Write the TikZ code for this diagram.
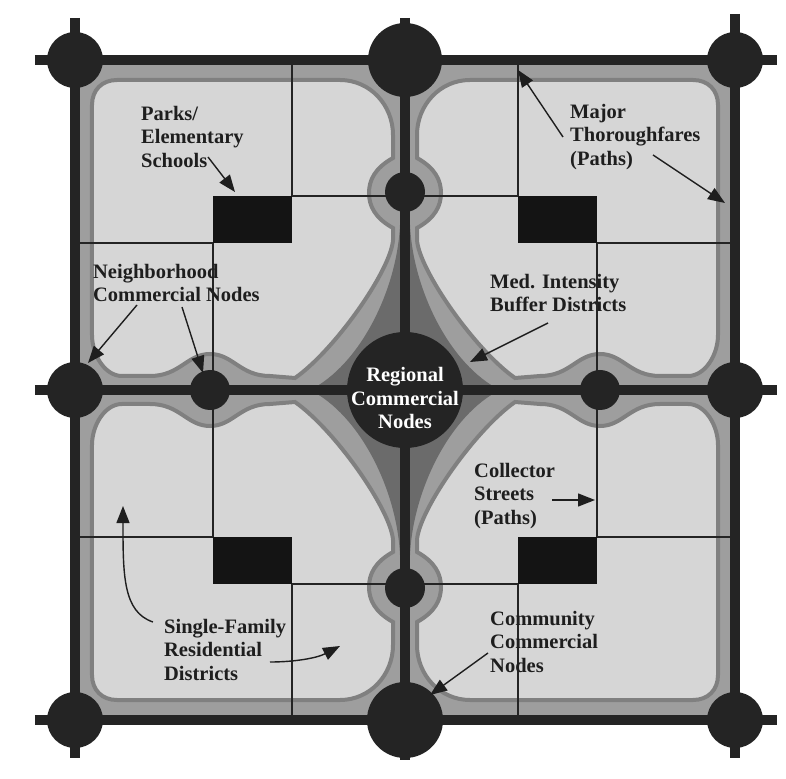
\documentclass[tikz,border=0pt]{standalone}
\usepackage{fontspec}
\setmainfont{Liberation Serif}
\usepackage{tikz}
\usetikzlibrary{arrows.meta, positioning, calc}
\definecolor{roadgray}{HTML}{242424}
\definecolor{textgray}{HTML}{1E1E1E}

\begin{document}
\begin{tikzpicture}[x=1pt, y=1pt,
  major/.style={line width=10pt, roadgray},
  collector/.style={line width=1.3pt, roadgray},
  school/.style={fill=black!92},
  bigdot/.style={circle, fill=roadgray, inner sep=0pt, minimum size=#1},
  lbl/.style={anchor=north west, align=left, inner sep=0pt, text=textgray,
    font=\fontsize{20.5}{23.5}\selectfont\bfseries},
  pointer/.style={-{Triangle[length=17pt,width=13pt]}, line width=1.4pt, textgray},
  bandzone/.style={fill=black!38},
  conezone/.style={fill=black!58},
  lightzone/.style={fill=black!16, draw=black!50, line width=4pt}]
  \useasboundingbox[fill=white] (-405,-388) rectangle (381,390);

  % quadrants, mirrored
  \foreach \sx/\sy in {1/1,-1/1,1/-1,-1/-1}{
    \begin{scope}[xscale=\sx, yscale=\sy]
      \fill[bandzone] (-330,0) rectangle (0,330);
      \fill[conezone] (-5,165) .. controls (-8,100) and (-45,25) .. (-95,0)
        -- (0,0) -- cycle;
      \path[lightzone] (-313,55) -- (-313,285)
        .. controls (-313,300) and (-303,310) .. (-288,310)
        -- (-65,310) .. controls (-35,310) and (-12,285) .. (-12,255)
        -- (-12,232) .. controls (-30,222) and (-36,210) .. (-36,197)
        .. controls (-36,184) and (-30,172) .. (-12,162)
        -- (-12,150) .. controls (-14,120) and (-70,40) .. (-110,12)
        -- (-135,14) .. controls (-165,14) and (-172,36) .. (-195,36)
        .. controls (-218,36) and (-225,14) .. (-255,14)
        -- (-283,14) .. controls (-300,14) and (-313,35) .. (-313,55) -- cycle;
      % collector streets and school
      \draw[collector] (-113,330) -- (-113,194) -- (0,194);
      \draw[collector] (-330,147) -- (-192,147) -- (-192,0);
      \fill[school] (-192,147) rectangle (-113,194);
    \end{scope}
  }

  % major thoroughfares
  \coordinate (tW) at (-370,330);  \coordinate (tE) at (372,330);
  \coordinate (mW) at (-370,0);    \coordinate (mE) at (372,0);
  \coordinate (bW) at (-370,-330); \coordinate (bE) at (372,-330);
  \coordinate (lN) at (-330,372);  \coordinate (lS) at (-330,-368);
  \coordinate (cN) at (0,372);     \coordinate (cS) at (0,-370);
  \coordinate (rN) at (330,376);   \coordinate (rS) at (330,-368);
  \draw[major] (tW) -- (tE);
  \draw[major] (mW) -- (mE);
  \draw[major] (bW) -- (bE);
  \draw[major] (lN) -- (lS);
  \draw[major] (cN) -- (cS);
  \draw[major] (rN) -- (rS);

  % commercial nodes
  \node[bigdot=56pt] (cNW) at (-330,330) {};
  \node[bigdot=56pt] (cNE) at (330,330) {};
  \node[bigdot=56pt] (cSW) at (-330,-330) {};
  \node[bigdot=56pt] (cSE) at (330,-330) {};
  \node[bigdot=56pt] (cW) at (-330,0) {};
  \node[bigdot=56pt] (cE) at (330,0) {};
  \node[bigdot=74pt] (cTop) at (0,330) {};
  \node[bigdot=76pt] (cBot) at (0,-330) {};
  \node[bigdot=40pt] (nN) at (0,198) {};
  \node[bigdot=40pt] (nS) at (0,-198) {};
  \node[bigdot=40pt] (nW) at (-195,0) {};
  \node[bigdot=40pt] (nE) at (195,0) {};
  \node[bigdot=116pt] (reg) at (0,0) {};
  \node[lbl, anchor=center, align=center, text=white] (regtxt) at (0,-8)
    {Regional\\Commercial\\Nodes};

  % labels
  \node[lbl] (parks) at (-264,284) {Parks/\\Elementary\\Schools};
  \node[lbl] (neigh) at (-312,126) {Neighborhood\\Commercial Nodes};
  \node[lbl] (major) at (165,286) {Major\\Thoroughfares\\(Paths)};
  \node[lbl] (buffer) at (85,116) {Med. Intensity\\Buffer Districts};
  \node[lbl] (coll) at (69,-73) {Collector\\Streets\\(Paths)};
  \node[lbl] (comm) at (85,-221) {Community\\Commercial\\Nodes};
  \node[lbl] (single) at (-241,-229) {Single-Family\\Residential\\Districts};

  % pointers
  \coordinate (pA) at (-197,233);  \coordinate (pB) at (-170,198);
  \coordinate (nA1) at (-268,85);  \coordinate (nB1) at (-317,27);
  \coordinate (nA2) at (-223,83);  \coordinate (nB2) at (-202,17);
  \coordinate (mA1) at (158,253);  \coordinate (mB1) at (113,320);
  \coordinate (mA2) at (248,235);  \coordinate (mB2) at (320,187);
  \coordinate (bA) at (143,67);    \coordinate (bB) at (65,28);
  \coordinate (kA) at (147,-110);  \coordinate (kB) at (190,-110);
  \coordinate (qA) at (83,-263);   \coordinate (qB) at (25,-305);
  \coordinate (sA1) at (-252,-232); \coordinate (sB1) at (-282,-116);
  \coordinate (sA2) at (-135,-272); \coordinate (sB2) at (-65,-256);
  \draw[pointer] (pA) -- (pB);
  \draw[pointer] (nA1) -- (nB1);
  \draw[pointer] (nA2) -- (nB2);
  \draw[pointer] (mA1) -- (mB1);
  \draw[pointer] (mA2) -- (mB2);
  \draw[pointer] (bA) -- (bB);
  \draw[pointer] (kA) -- (kB);
  \draw[pointer] (qA) -- (qB);
  \draw[pointer] (sA1) .. controls (-282,-222) and (-282,-185) .. (sB1);
  \draw[pointer] (sA2) .. controls (-110,-272) and (-88,-268) .. (sB2);
\end{tikzpicture}
\end{document}
